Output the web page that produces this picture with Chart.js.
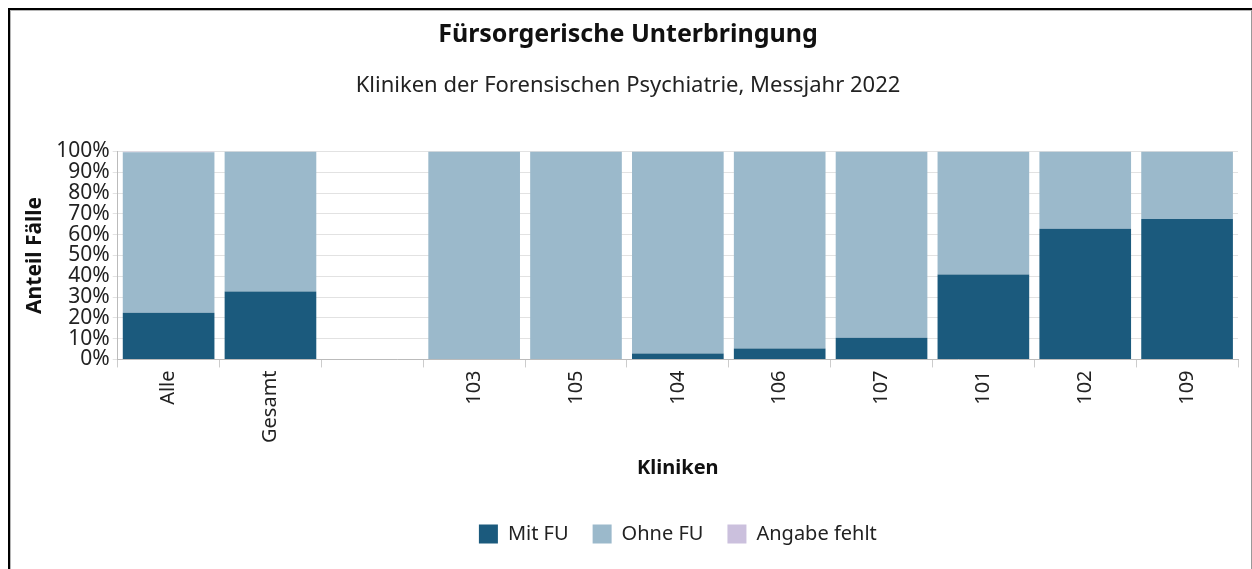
<!DOCTYPE html>
<html>
<head>
<meta charset="utf-8">
<script src="https://cdn.jsdelivr.net/npm/chart.js@4"></script>
<style>
  body { margin: 0; background: #fff; }
  .frame1 { position: absolute; left: 8px; top: 8px; width: 1244px; height: 600px; border-top: 2px solid #000; border-left: 2px solid #000; }
  .frame2 { position: absolute; left: 10px; top: 10px; width: 1240px; height: 600px; border-top: 1px solid #b5b5b5; border-left: 1px solid #b5b5b5; border-right: 1px solid #999; }
  .wrap { position: absolute; left: 0; top: 0; width: 1252px; height: 569px; }
</style>
</head>
<body>
<div class="frame1"></div>
<div class="frame2"></div>
<div class="wrap"><canvas id="fuChart"></canvas></div>
<script>
const kliniken = ['Alle', 'Gesamt', '', '103', '105', '104', '106', '107', '101', '102', '109'];
const mitFU = [22.5, 32.7, null, 0, 0, 2.8, 5.3, 10.4, 40.8, 62.8, 67.5];
const ohneFU = [77.1, 67.3, null, 100, 100, 97.2, 94.7, 89.6, 59.2, 37.2, 32.5];
const angabeFehlt = [0.4, 0, null, 0, 0, 0, 0, 0, 0, 0, 0];
const yTicks = [0, 10, 20, 30, 40, 50, 60, 70, 80, 90, 100];

const font = '"Noto Sans", sans-serif';
Chart.defaults.font.family = font;
Chart.defaults.color = '#222';

const ctx = document.getElementById('fuChart').getContext('2d');
const fuChart = new Chart(ctx, {
    type: 'bar',
    data: {
        labels: kliniken,
        datasets: [
            { label: 'Mit FU', data: mitFU, backgroundColor: '#1b5a7d', borderWidth: 0 },
            { label: 'Ohne FU', data: ohneFU, backgroundColor: '#9bb9cb', borderWidth: 0 },
            { label: 'Angabe fehlt', data: angabeFehlt, backgroundColor: '#cbc0dd', borderWidth: 0 }
        ]
    },
    options: {
        responsive: true,
        maintainAspectRatio: false,
        animation: false,
        layout: { padding: { left: 18, right: 14, top: 10, bottom: 15 } },
        datasets: { bar: { categoryPercentage: 0.9, barPercentage: 1 } },
        scales: {
            x: {
                stacked: true,
                grid: { offset: true, drawOnChartArea: false, color: '#ccc', tickLength: 8 },
                border: { color: '#bbb' },
                ticks: { maxRotation: 90, minRotation: 90, font: { size: 20 }, color: '#222' },
                title: { display: true, text: 'Kliniken', font: { size: 20, weight: 'bold' }, color: '#111', padding: { top: 10, bottom: 20 } }
            },
            y: {
                stacked: true,
                min: 0,
                max: 100,
                afterBuildTicks: axis => { axis.ticks = yTicks.map(v => ({ value: v })); },
                grid: { color: '#e2e2e2', tickLength: 5 },
                border: { color: '#bbb' },
                ticks: { autoSkip: false, padding: 3, font: { size: 21 }, color: '#222', callback: v => v + '%' },
                title: { display: true, text: 'Anteil Fälle', font: { size: 21, weight: 'bold' }, color: '#111', padding: { bottom: 6 } }
            }
        },
        plugins: {
            title: {
                display: true,
                text: 'Fürsorgerische Unterbringung',
                font: { size: 25, weight: 'bold' },
                color: '#111',
                padding: { top: 10, bottom: 23 }
            },
            subtitle: {
                display: true,
                text: 'Kliniken der Forensischen Psychiatrie, Messjahr 2022',
                font: { size: 22 },
                color: '#222',
                padding: { bottom: 52 }
            },
            legend: {
                position: 'bottom',
                fullSize: false,
                labels: { boxWidth: 19, boxHeight: 19, padding: 24, font: { size: 20 }, color: '#222' }
            },
            tooltip: { enabled: false }
        }
    }
});
</script>
</body>
</html>
